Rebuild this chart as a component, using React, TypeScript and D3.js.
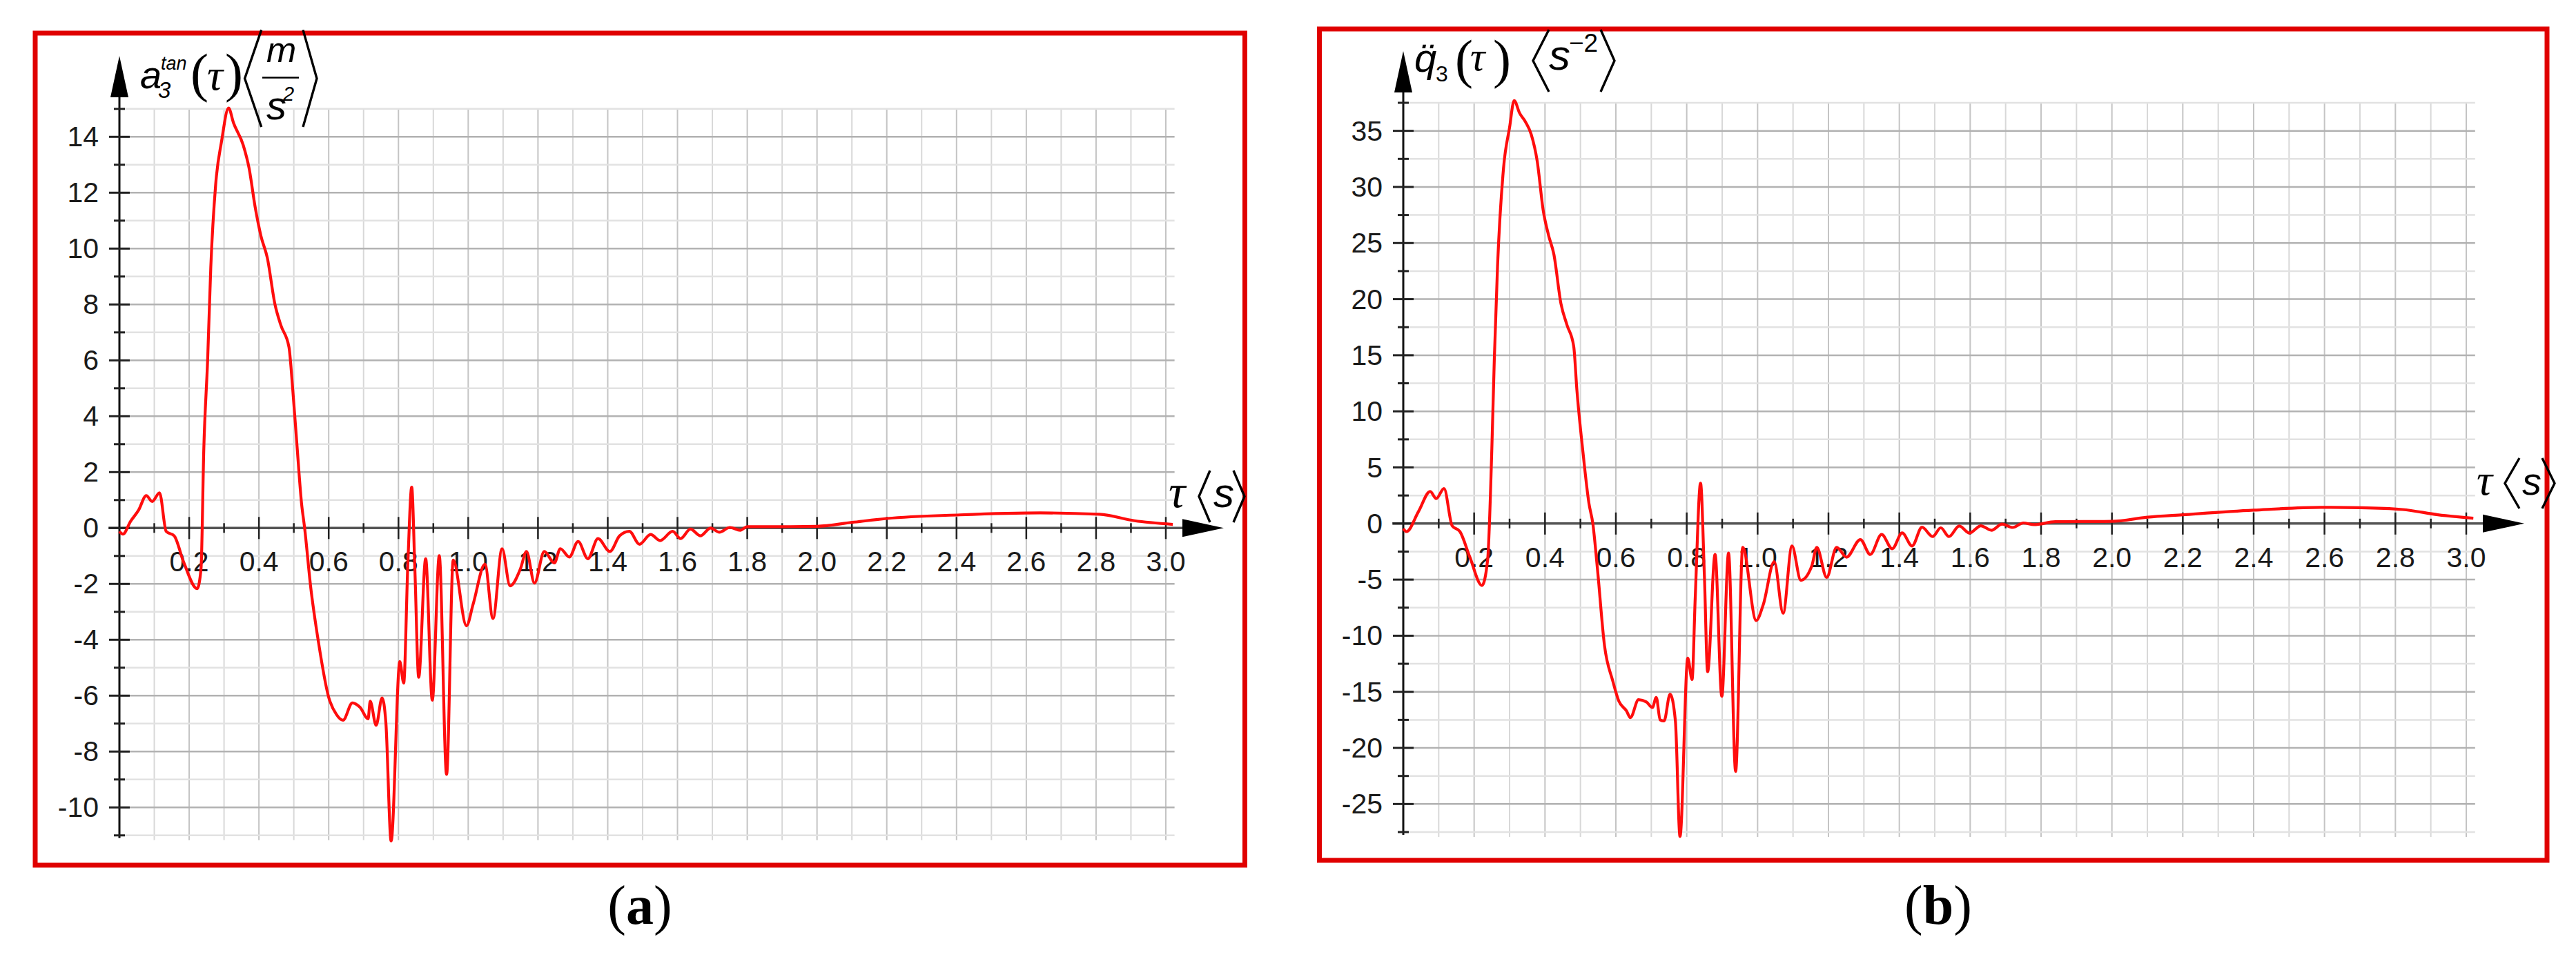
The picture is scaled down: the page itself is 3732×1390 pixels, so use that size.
import React from "react";
import * as d3 from "d3";

// (a) tangential acceleration a3tan(t), m/s^2
const timeA = [0, 0.01, 0.032, 0.055, 0.077, 0.094, 0.115, 0.134, 0.157, 0.185, 0.223, 0.234, 0.242, 0.253, 0.262, 0.276, 0.293, 0.313, 0.327, 0.355, 0.372, 0.389, 0.406, 0.424, 0.446, 0.463, 0.486, 0.497, 0.509, 0.522, 0.531, 0.548, 0.571, 0.6, 0.622, 0.641, 0.668, 0.69, 0.713, 0.719, 0.736, 0.753, 0.764, 0.779, 0.804, 0.815, 0.827, 0.838, 0.847, 0.858, 0.878, 0.897, 0.917, 0.938, 0.957, 0.995, 1.014, 1.048, 1.071, 1.097, 1.12, 1.15, 1.167, 1.19, 1.218, 1.247, 1.264, 1.29, 1.315, 1.343, 1.372, 1.406, 1.434, 1.462, 1.491, 1.523, 1.55, 1.586, 1.609, 1.637, 1.666, 1.695, 1.72, 1.75, 1.78, 1.8, 1.9, 2.0, 2.1, 2.2, 2.41, 2.64, 2.81, 2.91, 3.02];
const accA = [-0.12, -0.22, 0.24, 0.64, 1.16, 0.95, 1.26, -0.12, -0.28, -1.25, -2.17, -1.45, 2.85, 6.04, 9.34, 12.3, 13.85, 15.03, 14.5, 13.7, 12.86, 11.5, 10.44, 9.67, 8.0, 7.25, 6.48, 4.95, 2.97, 0.9, 0, -2.07, -4.11, -6.06, -6.67, -6.88, -6.26, -6.42, -6.83, -6.2, -7.06, -6.08, -6.98, -11.2, -4.78, -5.55, -1.25, 1.46, -1.45, -5.34, -1.1, -6.16, -0.99, -8.82, -1.15, -3.5, -2.73, -1.3, -3.24, -0.74, -2.07, -1.45, -0.84, -1.97, -0.84, -1.25, -0.74, -1.04, -0.48, -1.1, -0.38, -0.84, -0.28, -0.12, -0.58, -0.23, -0.45, -0.12, -0.38, -0.04, -0.28, 0.0, -0.15, 0.02, -0.08, 0.05, 0.05, 0.06, 0.2, 0.34, 0.47, 0.54, 0.49, 0.26, 0.13];

// (b) angular acceleration q3''(t), s^-2
const timeB = [0, 0.009, 0.043, 0.076, 0.093, 0.115, 0.138, 0.16, 0.188, 0.222, 0.238, 0.25, 0.257, 0.266, 0.283, 0.3, 0.313, 0.328, 0.345, 0.361, 0.378, 0.395, 0.41, 0.425, 0.445, 0.462, 0.481, 0.49, 0.507, 0.524, 0.535, 0.548, 0.568, 0.591, 0.608, 0.63, 0.641, 0.664, 0.686, 0.703, 0.714, 0.725, 0.736, 0.753, 0.768, 0.781, 0.803, 0.815, 0.824, 0.839, 0.85, 0.859, 0.88, 0.899, 0.918, 0.938, 0.958, 0.996, 1.016, 1.047, 1.072, 1.097, 1.122, 1.153, 1.167, 1.195, 1.223, 1.251, 1.29, 1.318, 1.35, 1.38, 1.408, 1.436, 1.464, 1.494, 1.517, 1.54, 1.569, 1.598, 1.63, 1.66, 1.69, 1.72, 1.75, 1.78, 1.84, 2.0, 2.1, 2.2, 2.4, 2.59, 2.7, 2.82, 2.92, 3.02];
const accB = [-0.46, -0.72, 1.07, 2.86, 2.22, 3.12, -0.2, -0.72, -3.0, -5.52, -3.27, 6.7, 14.7, 22.9, 31.7, 35.3, 37.7, 36.6, 35.8, 34.7, 32.3, 27.9, 25.7, 24.0, 19.6, 17.7, 15.8, 11.9, 6.4, 1.8, 0, -4.04, -10.9, -14.0, -15.8, -16.7, -17.3, -15.7, -15.9, -16.4, -15.5, -17.5, -17.6, -15.2, -17.6, -27.9, -12.0, -13.9, -6.6, 3.6, -4.8, -13.2, -2.76, -15.4, -2.63, -22.1, -2.12, -8.64, -7.23, -3.4, -8.0, -2.0, -5.06, -3.78, -2.12, -4.8, -2.12, -3.0, -1.43, -2.76, -0.97, -2.25, -0.84, -2.0, -0.33, -1.16, -0.38, -1.16, -0.22, -0.85, -0.2, -0.6, -0.05, -0.35, 0.05, -0.1, 0.16, 0.19, 0.56, 0.78, 1.19, 1.44, 1.41, 1.25, 0.78, 0.47];

// tick labels
const xTickLabels = ["0.2", "0.4", "0.6", "0.8", "1.0", "1.2", "1.4", "1.6", "1.8", "2.0", "2.2", "2.4", "2.6", "2.8", "3.0"];
const yLabelsA = [-10, -8, -6, -4, -2, 0, 2, 4, 6, 8, 10, 12, 14];
const yLabelsB = [-25, -20, -15, -10, -5, 0, 5, 10, 15, 20, 25, 30, 35];

const SANS = "'Liberation Sans', Arial, sans-serif";
const SERIF = "'Liberation Serif', 'Times New Roman', serif";
const FRAME = "#e00000";

function Bracket({ d }) {
  return <path d={d} fill="none" stroke="#000" strokeWidth={3.4} strokeLinejoin="miter" />;
}

function Panel({ cfg, times, values, yLabels, children }) {
  const x = d3.scaleLinear().domain([0, 3]).range([cfg.ox, cfg.x3]);
  const y = d3.scaleLinear().domain([cfg.yMin, cfg.yMax]).range([cfg.yBottom, cfg.yTop]);
  const x0 = x(0);
  const y0 = y(0);
  const gridRight = x(3.025);

  const xTicks = d3.range(1, 31).map((i) => i / 10);
  const nY = Math.round((cfg.yMax - cfg.yMin) / cfg.yStep);
  const yTicks = d3.range(nY + 1).map((i) => cfg.yMin + i * cfg.yStep);
  const isMajorY = (v) => yLabels.some((l) => Math.abs(l - v) < 1e-6);
  const isMajorX = (t) => Math.round(t * 10) % 2 === 0;

  const pts = d3.zip(times, values);
  const line = d3
    .line()
    .x((d) => x(d[0]))
    .y((d) => y(d[1]))
    .curve(d3.curveMonotoneX);

  return (
    <g>
      {/* grid */}
      {xTicks.map((t) => (
        <line
          key={"gx" + t}
          x1={x(t)}
          x2={x(t)}
          y1={y(cfg.yMax)}
          y2={y(cfg.yMin) + 7}
          stroke={isMajorX(t) ? "#c4c4c4" : "#d8d8d8"}
          strokeWidth={2}
        />
      ))}
      {yTicks.map((v) => (
        <line
          key={"gy" + v}
          x1={x0}
          x2={gridRight}
          y1={y(v)}
          y2={y(v)}
          stroke={isMajorY(v) ? "#b2b2b2" : "#e2e2e2"}
          strokeWidth={2.5}
        />
      ))}

      {/* x axis */}
      <line x1={x0 - 16} x2={cfg.arrowX} y1={y0} y2={y0} stroke="#555" strokeWidth={3.5} />
      {xTicks.map((t) => (
        <line
          key={"tx" + t}
          x1={x(t)}
          x2={x(t)}
          y1={y0 - (isMajorX(t) ? 16 : 7)}
          y2={y0 + (isMajorX(t) ? 16 : 7)}
          stroke="#222"
          strokeWidth={2.5}
        />
      ))}
      <path
        d={`M${cfg.arrowX},${y0 - 13}L${cfg.arrowX + 60},${y0}L${cfg.arrowX},${y0 + 13}Z`}
        fill="#000"
      />

      {/* y axis */}
      <line x1={x0} x2={x0} y1={cfg.arrowY} y2={y(cfg.yMin) + 4} stroke="#111" strokeWidth={3} />
      {yTicks.map((v) => (
        <line
          key={"ty" + v}
          x1={x0 - (isMajorY(v) ? 15 : 8)}
          x2={x0 + (isMajorY(v) ? 15 : 8)}
          y1={y(v)}
          y2={y(v)}
          stroke="#222"
          strokeWidth={3}
        />
      ))}
      <path
        d={`M${x0 - 13},${cfg.arrowY}L${x0},${cfg.arrowY - 60}L${x0 + 13},${cfg.arrowY}Z`}
        fill="#000"
      />

      {/* tick labels */}
      {xTickLabels.map((s) => (
        <text
          key={"lx" + s}
          x={x(+s)}
          y={y0 + 63}
          textAnchor="middle"
          fontFamily={SANS}
          fontSize={41}
          fill="#1a1a1a"
        >
          {s}
        </text>
      ))}
      {yLabels.map((v) => (
        <text
          key={"ly" + v}
          x={x0 - 30}
          y={y(v) + 14}
          textAnchor="end"
          fontFamily={SANS}
          fontSize={41}
          fill="#1a1a1a"
        >
          {String(v)}
        </text>
      ))}

      {/* curve */}
      <path d={line(pts)} fill="none" stroke="#ff0d0d" strokeWidth={4.2} strokeLinejoin="round" />

      {/* frame */}
      <rect
        x={cfg.frame[0]}
        y={cfg.frame[1]}
        width={cfg.frame[2] - cfg.frame[0]}
        height={cfg.frame[3] - cfg.frame[1]}
        fill="none"
        stroke={FRAME}
        strokeWidth={7}
      />

      {children}

      <text x={cfg.captionX} y={1339} textAnchor="middle" fontFamily={SERIF} fontSize={80}>
        <tspan>(</tspan>
        <tspan fontWeight="bold">{cfg.caption}</tspan>
        <tspan>)</tspan>
      </text>
    </g>
  );
}

const cfgA = {
  ox: 173,
  x3: 1689,
  yMin: -11,
  yMax: 15,
  yStep: 1,
  yBottom: 1210.8,
  yTop: 157.8,
  arrowX: 1713,
  arrowY: 141,
  frame: [51, 48, 1803.5, 1254],
  captionX: 927,
  caption: "a",
};

const cfgB = {
  ox: 2033,
  x3: 3573,
  yMin: -27.5,
  yMax: 37.5,
  yStep: 2.5,
  yBottom: 1206,
  yTop: 149,
  arrowX: 3597,
  arrowY: 134,
  frame: [1911.5, 42, 3690, 1247],
  captionX: 2808,
  caption: "b",
};

export default function App() {
  return (
    <svg
      width={3732}
      height={1390}
      style={{ position: "absolute", left: 0, top: 0, background: "#fff" }}
    >
      <rect x={0} y={0} width={3732} height={1390} fill="#fff" />

      <Panel cfg={cfgA} times={timeA} values={accA} yLabels={yLabelsA}>
        {/* y title: a3^tan(τ) <m/s^2> */}
        <g fill="#000">
          <text x={203} y={128} fontFamily={SANS} fontStyle="italic" fontSize={56}>a</text>
          <text x={233} y={101} fontFamily={SANS} fontStyle="italic" fontSize={27}>tan</text>
          <text x={229} y={142} fontFamily={SANS} fontStyle="italic" fontSize={33}>3</text>
          <text x={276} y={132} fontFamily={SERIF} fontSize={78}>(</text>
          <text x={300} y={130} fontFamily={SERIF} fontStyle="italic" fontSize={64}>τ</text>
          <text x={326} y={132} fontFamily={SERIF} fontSize={78}>)</text>
          <Bracket d="M378.7,43.4L354.6,113.7L378.7,184" />
          <text x={386} y={90} fontFamily={SANS} fontStyle="italic" fontSize={52}>m</text>
          <line x1={380} x2={433} y1={112.6} y2={112.6} stroke="#000" strokeWidth={2.5} />
          <text x={386} y={173} fontFamily={SANS} fontStyle="italic" fontSize={58}>s</text>
          <text x={410} y={146} fontFamily={SANS} fontStyle="italic" fontSize={29}>2</text>
          <Bracket d="M439,43.4L459,113.7L439,184" />
        </g>
        {/* x title: τ <s> */}
        <g fill="#000">
          <text x={1693} y={735} fontFamily={SERIF} fontStyle="italic" fontSize={68}>τ</text>
          <Bracket d="M1753,682L1737,719.5L1753,757" />
          <text x={1758} y={735} fontFamily={SANS} fontStyle="italic" fontSize={60}>s</text>
          <Bracket d="M1787,682L1803,719.5L1787,757" />
        </g>
      </Panel>

      <Panel cfg={cfgB} times={timeB} values={accB} yLabels={yLabelsB}>
        {/* y title: q3''(τ) <s^-2> */}
        <g fill="#000">
          <text x={2049} y={104} fontFamily={SANS} fontStyle="italic" fontSize={58}>q̈</text>
          <text x={2080} y={118} fontFamily={SANS} fontSize={32}>3</text>
          <text x={2108} y={112} fontFamily={SERIF} fontSize={78}>(</text>
          <text x={2130} y={102} fontFamily={SERIF} fontStyle="italic" fontSize={60}>τ</text>
          <text x={2163} y={112} fontFamily={SERIF} fontSize={78}>)</text>
          <Bracket d="M2244,43L2221,88L2244,133" />
          <text x={2244} y={101} fontFamily={SANS} fontStyle="italic" fontSize={62}>s</text>
          <text x={2273} y={75} fontFamily={SANS} fontSize={37}>−2</text>
          <Bracket d="M2319,43L2339,88L2319,133" />
        </g>
        {/* x title */}
        <g fill="#000">
          <text x={3588} y={717} fontFamily={SERIF} fontStyle="italic" fontSize={64}>τ</text>
          <Bracket d="M3650,664L3629,700.5L3650,737" />
          <text x={3654} y={717} fontFamily={SANS} fontStyle="italic" fontSize={56}>s</text>
          <Bracket d="M3683,664L3701,700.5L3683,737" />
        </g>
      </Panel>
    </svg>
  );
}
